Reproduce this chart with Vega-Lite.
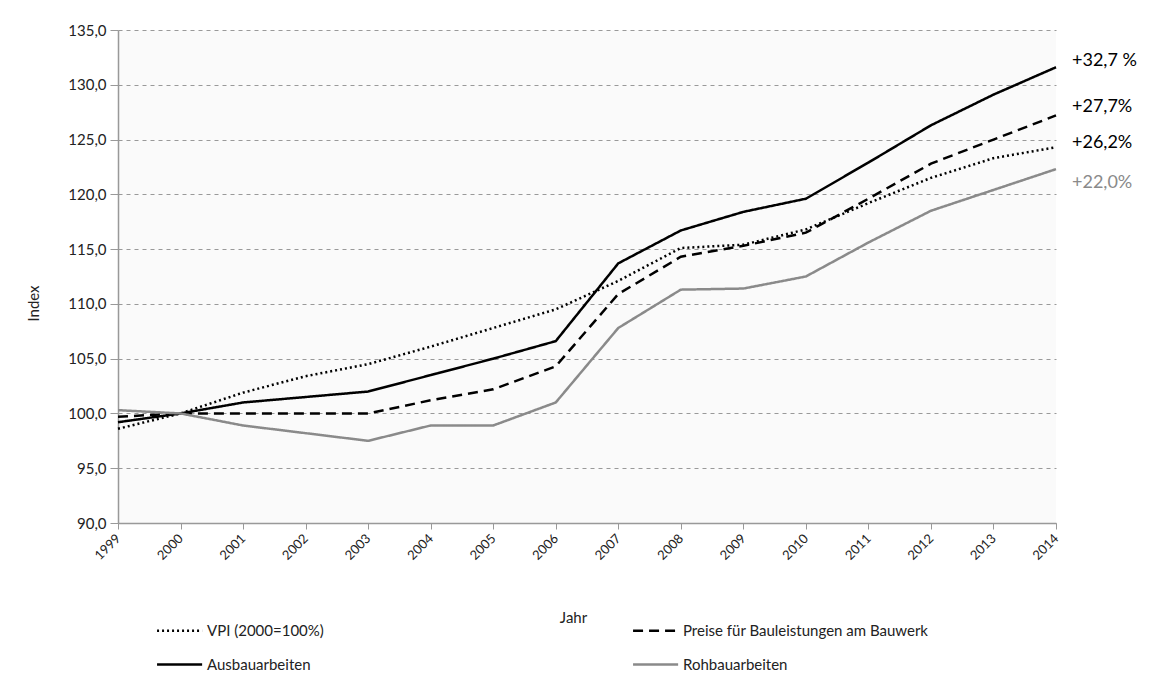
{
  "$schema": "https://vega.github.io/schema/vega-lite/v6.json",
  "width": 938,
  "height": 493,
  "autosize": "none",
  "padding": {"left": 118, "top": 30, "right": 101, "bottom": 158},
  "background": "white",
  "config": {
    "locale": {"number": {"decimal": ",", "thousands": ".", "grouping": [3], "currency": ["", " €"]}},
    "view": {"fill": "#fafafa", "stroke": null},
    "font": "Lato"
  },
  "datasets": {
    "series": [
      {"Jahr": 1999, "Reihe": "VPI (2000=100%)", "Index": 98.6},
      {"Jahr": 2000, "Reihe": "VPI (2000=100%)", "Index": 100.0},
      {"Jahr": 2001, "Reihe": "VPI (2000=100%)", "Index": 101.9},
      {"Jahr": 2002, "Reihe": "VPI (2000=100%)", "Index": 103.4},
      {"Jahr": 2003, "Reihe": "VPI (2000=100%)", "Index": 104.5},
      {"Jahr": 2004, "Reihe": "VPI (2000=100%)", "Index": 106.1},
      {"Jahr": 2005, "Reihe": "VPI (2000=100%)", "Index": 107.8},
      {"Jahr": 2006, "Reihe": "VPI (2000=100%)", "Index": 109.5},
      {"Jahr": 2007, "Reihe": "VPI (2000=100%)", "Index": 112.1},
      {"Jahr": 2008, "Reihe": "VPI (2000=100%)", "Index": 115.1},
      {"Jahr": 2009, "Reihe": "VPI (2000=100%)", "Index": 115.4},
      {"Jahr": 2010, "Reihe": "VPI (2000=100%)", "Index": 116.8},
      {"Jahr": 2011, "Reihe": "VPI (2000=100%)", "Index": 119.2},
      {"Jahr": 2012, "Reihe": "VPI (2000=100%)", "Index": 121.5},
      {"Jahr": 2013, "Reihe": "VPI (2000=100%)", "Index": 123.3},
      {"Jahr": 2014, "Reihe": "VPI (2000=100%)", "Index": 124.3},
      {"Jahr": 1999, "Reihe": "Preise für Bauleistungen am Bauwerk", "Index": 99.7},
      {"Jahr": 2000, "Reihe": "Preise für Bauleistungen am Bauwerk", "Index": 100.0},
      {"Jahr": 2001, "Reihe": "Preise für Bauleistungen am Bauwerk", "Index": 100.0},
      {"Jahr": 2002, "Reihe": "Preise für Bauleistungen am Bauwerk", "Index": 100.0},
      {"Jahr": 2003, "Reihe": "Preise für Bauleistungen am Bauwerk", "Index": 100.0},
      {"Jahr": 2004, "Reihe": "Preise für Bauleistungen am Bauwerk", "Index": 101.2},
      {"Jahr": 2005, "Reihe": "Preise für Bauleistungen am Bauwerk", "Index": 102.2},
      {"Jahr": 2006, "Reihe": "Preise für Bauleistungen am Bauwerk", "Index": 104.3},
      {"Jahr": 2007, "Reihe": "Preise für Bauleistungen am Bauwerk", "Index": 110.9},
      {"Jahr": 2008, "Reihe": "Preise für Bauleistungen am Bauwerk", "Index": 114.3},
      {"Jahr": 2009, "Reihe": "Preise für Bauleistungen am Bauwerk", "Index": 115.3},
      {"Jahr": 2010, "Reihe": "Preise für Bauleistungen am Bauwerk", "Index": 116.5},
      {"Jahr": 2011, "Reihe": "Preise für Bauleistungen am Bauwerk", "Index": 119.6},
      {"Jahr": 2012, "Reihe": "Preise für Bauleistungen am Bauwerk", "Index": 122.8},
      {"Jahr": 2013, "Reihe": "Preise für Bauleistungen am Bauwerk", "Index": 125.0},
      {"Jahr": 2014, "Reihe": "Preise für Bauleistungen am Bauwerk", "Index": 127.2},
      {"Jahr": 1999, "Reihe": "Ausbauarbeiten", "Index": 99.2},
      {"Jahr": 2000, "Reihe": "Ausbauarbeiten", "Index": 100.0},
      {"Jahr": 2001, "Reihe": "Ausbauarbeiten", "Index": 101.0},
      {"Jahr": 2002, "Reihe": "Ausbauarbeiten", "Index": 101.5},
      {"Jahr": 2003, "Reihe": "Ausbauarbeiten", "Index": 102.0},
      {"Jahr": 2004, "Reihe": "Ausbauarbeiten", "Index": 103.5},
      {"Jahr": 2005, "Reihe": "Ausbauarbeiten", "Index": 105.0},
      {"Jahr": 2006, "Reihe": "Ausbauarbeiten", "Index": 106.6},
      {"Jahr": 2007, "Reihe": "Ausbauarbeiten", "Index": 113.7},
      {"Jahr": 2008, "Reihe": "Ausbauarbeiten", "Index": 116.7},
      {"Jahr": 2009, "Reihe": "Ausbauarbeiten", "Index": 118.4},
      {"Jahr": 2010, "Reihe": "Ausbauarbeiten", "Index": 119.6},
      {"Jahr": 2011, "Reihe": "Ausbauarbeiten", "Index": 122.9},
      {"Jahr": 2012, "Reihe": "Ausbauarbeiten", "Index": 126.3},
      {"Jahr": 2013, "Reihe": "Ausbauarbeiten", "Index": 129.1},
      {"Jahr": 2014, "Reihe": "Ausbauarbeiten", "Index": 131.6},
      {"Jahr": 1999, "Reihe": "Rohbauarbeiten", "Index": 100.3},
      {"Jahr": 2000, "Reihe": "Rohbauarbeiten", "Index": 100.0},
      {"Jahr": 2001, "Reihe": "Rohbauarbeiten", "Index": 98.9},
      {"Jahr": 2002, "Reihe": "Rohbauarbeiten", "Index": 98.2},
      {"Jahr": 2003, "Reihe": "Rohbauarbeiten", "Index": 97.5},
      {"Jahr": 2004, "Reihe": "Rohbauarbeiten", "Index": 98.9},
      {"Jahr": 2005, "Reihe": "Rohbauarbeiten", "Index": 98.9},
      {"Jahr": 2006, "Reihe": "Rohbauarbeiten", "Index": 101.0},
      {"Jahr": 2007, "Reihe": "Rohbauarbeiten", "Index": 107.8},
      {"Jahr": 2008, "Reihe": "Rohbauarbeiten", "Index": 111.3},
      {"Jahr": 2009, "Reihe": "Rohbauarbeiten", "Index": 111.4},
      {"Jahr": 2010, "Reihe": "Rohbauarbeiten", "Index": 112.5},
      {"Jahr": 2011, "Reihe": "Rohbauarbeiten", "Index": 115.6},
      {"Jahr": 2012, "Reihe": "Rohbauarbeiten", "Index": 118.5},
      {"Jahr": 2013, "Reihe": "Rohbauarbeiten", "Index": 120.4},
      {"Jahr": 2014, "Reihe": "Rohbauarbeiten", "Index": 122.3}
    ],
    "labels": [
      {"Jahr": 2014, "Index": 132.2, "Text": "+32,7 %", "Reihe": "Ausbauarbeiten"},
      {"Jahr": 2014, "Index": 128.0, "Text": "+27,7%", "Reihe": "Preise für Bauleistungen am Bauwerk"},
      {"Jahr": 2014, "Index": 124.7, "Text": "+26,2%", "Reihe": "VPI (2000=100%)"},
      {"Jahr": 2014, "Index": 121.0, "Text": "+22,0%", "Reihe": "Rohbauarbeiten"}
    ]
  },
  "layer": [
    {
      "data": {"name": "series"},
      "mark": {"type": "line", "strokeWidth": 2.5, "clip": false},
      "encoding": {
        "x": {
          "field": "Jahr", "type": "quantitative",
          "scale": {"domain": [1999, 2014], "nice": false, "zero": false},
          "axis": {
            "title": "Jahr",
            "values": [1999, 2000, 2001, 2002, 2003, 2004, 2005, 2006, 2007, 2008, 2009, 2010, 2011, 2012, 2013, 2014],
            "format": "d",
            "labelAngle": -45,
            "labelAlign": "right",
            "labelBaseline": "middle",
            "labelFontSize": 13,
            "labelColor": "#222",
            "labelPadding": 7,
            "domainColor": "#999",
            "domainWidth": 1.5,
            "tickColor": "#999",
            "tickSize": 6,
            "grid": false,
            "titleX": 455,
            "titleY": 94,
            "titleAlign": "center",
            "titleBaseline": "middle",
            "titleFontSize": 15,
            "titleFontWeight": "normal",
            "titleColor": "#222"
          }
        },
        "y": {
          "field": "Index", "type": "quantitative",
          "scale": {"domain": [90, 135], "nice": false, "zero": false},
          "axis": {
            "title": "Index",
            "values": [90, 95, 100, 105, 110, 115, 120, 125, 130, 135],
            "format": ".1f",
            "labelFontSize": 15,
            "labelColor": "#222",
            "labelPadding": 4,
            "domainColor": "#999",
            "domainWidth": 1.5,
            "tickColor": "#999",
            "tickSize": 8,
            "grid": true,
            "gridColor": "#999",
            "gridDash": [4, 4],
            "gridWidth": 1,
            "titleX": -85,
            "titleY": 273,
            "titleAngle": -90,
            "titleAlign": "center",
            "titleBaseline": "middle",
            "titleFontSize": 15,
            "titleFontWeight": "normal",
            "titleColor": "#222"
          }
        },
        "color": {
          "field": "Reihe", "type": "nominal",
          "scale": {
            "domain": ["VPI (2000=100%)", "Preise für Bauleistungen am Bauwerk", "Ausbauarbeiten", "Rohbauarbeiten"],
            "range": ["#000000", "#000000", "#000000", "#8a8a8a"]
          },
          "legend": {
            "title": null,
            "orient": "none",
            "direction": "horizontal",
            "legendX": 71,
            "legendY": 593,
            "columns": 2,
            "columnPadding": 304,
            "rowPadding": 18,
            "symbolType": "M-7,0H1",
            "symbolSize": 127,
            "symbolStrokeWidth": 2.5,
            "labelFontSize": 15,
            "labelLimit": 500,
            "labelColor": "#222",
            "labelOffset": 3
          }
        },
        "strokeDash": {
          "field": "Reihe", "type": "nominal",
          "scale": {
            "domain": ["VPI (2000=100%)", "Preise für Bauleistungen am Bauwerk", "Ausbauarbeiten", "Rohbauarbeiten"],
            "range": [[2, 3], [10, 6], [1, 0], [1, 0]]
          },
          "legend": {
            "title": null,
            "orient": "none",
            "direction": "horizontal",
            "legendX": 71,
            "legendY": 593,
            "columns": 2,
            "columnPadding": 304,
            "rowPadding": 18,
            "symbolType": "M-7,0H1",
            "symbolSize": 127,
            "symbolStrokeWidth": 2.5,
            "labelFontSize": 15,
            "labelLimit": 500,
            "labelColor": "#222",
            "labelOffset": 3
          }
        }
      }
    },
    {
      "data": {"name": "labels"},
      "mark": {"type": "text", "align": "left", "baseline": "middle", "dx": 16, "fontSize": 18, "clip": false},
      "encoding": {
        "x": {"field": "Jahr", "type": "quantitative"},
        "y": {"field": "Index", "type": "quantitative"},
        "text": {"field": "Text"},
        "color": {
          "condition": {"test": "datum.Reihe === 'Rohbauarbeiten'", "value": "#8a8a8a"},
          "value": "#000000"
        }
      }
    }
  ]
}
